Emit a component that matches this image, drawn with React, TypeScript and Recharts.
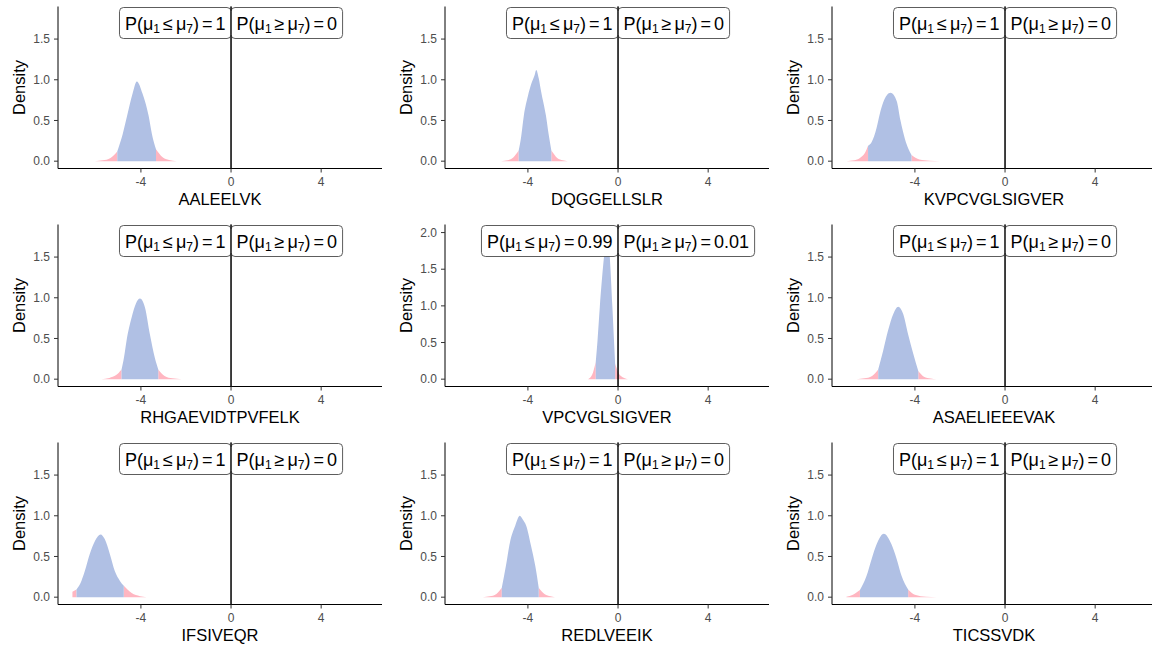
import React, { useLayoutEffect, useRef, useState } from "react";
import { ComposedChart, Area, XAxis, YAxis, ReferenceLine } from "recharts";

const FONT = '"Liberation Sans", Arial, Helvetica, sans-serif';
const BLUE = "#B0C0E4";
const PINK = "#FFB6C1";

const PEPTIDES = [
  "AALEELVK", "DQGGELLSLR", "KVPCVGLSIGVER",
  "RHGAEVIDTPVFELK", "VPCVGLSIGVER", "ASAELIEEEVAK",
  "IFSIVEQR", "REDLVEEIK", "TICSSVDK",
];
const P_LESS = ["1", "1", "1", "1", "0.99", "1", "1", "1", "1"];
const P_GREATER = ["0", "0", "0", "0", "0.01", "0", "0", "0", "0"];

// blue part of each density (credible interval)
const CI_LO = [-5.05, -4.41, -6.08, -4.86, -0.99, -5.63, -6.86, -5.16, -6.44];
const CI_HI = [-3.33, -2.96, -4.15, -3.23, -0.13, -3.85, -4.76, -3.52, -4.3];

// density curves
const X_AALEELVK = [-6.04, -5.7, -5.35, -5.05, -4.81, -4.61, -4.37, -4.18, -3.93, -3.66, -3.51, -3.33, -3.05, -2.75, -2.41];
const D_AALEELVK = [0, 0.01, 0.04, 0.12, 0.33, 0.56, 0.83, 0.98, 0.83, 0.56, 0.33, 0.145, 0.05, 0.015, 0];

const X_DQGGELLSLR = [-5.19, -4.9, -4.65, -4.41, -4.3, -4.18, -4.0, -3.85, -3.7, -3.63, -3.52, -3.41, -3.2, -3.08, -2.96, -2.7, -2.45, -2.23];
const D_DQGGELLSLR = [0, 0.01, 0.045, 0.13, 0.3, 0.56, 0.8, 0.95, 1.06, 1.12, 1.02, 0.85, 0.56, 0.33, 0.13, 0.04, 0.01, 0];

const X_KVPCVGLSIGVER = [-7.04, -6.7, -6.44, -6.22, -6.08, -5.93, -5.7, -5.56, -5.41, -5.08, -4.81, -4.64, -4.44, -4.15, -3.8, -3.35, -2.89];
const D_KVPCVGLSIGVER = [0, 0.01, 0.04, 0.1, 0.19, 0.23, 0.41, 0.58, 0.72, 0.84, 0.74, 0.5, 0.27, 0.075, 0.02, 0.005, 0];

const X_RHGAEVIDTPVFELK = [-5.75, -5.4, -5.1, -4.86, -4.75, -4.64, -4.41, -4.22, -4.04, -3.82, -3.6, -3.38, -3.23, -2.95, -2.6, -2.19];
const D_RHGAEVIDTPVFELK = [0, 0.015, 0.05, 0.12, 0.27, 0.47, 0.76, 0.93, 0.99, 0.88, 0.55, 0.26, 0.12, 0.04, 0.01, 0];

const X_VPCVGLSIGVER = [-1.33, -1.15, -0.99, -0.91, -0.81, -0.62, -0.5, -0.37, -0.25, -0.18, -0.13, 0.1, 0.44];
const D_VPCVGLSIGVER = [0, 0.06, 0.235, 0.53, 0.98, 1.68, 2.0, 1.68, 0.98, 0.53, 0.21, 0.05, 0];

const X_ASAELIEEEVAK = [-6.59, -6.25, -5.9, -5.63, -5.41, -5.19, -4.96, -4.74, -4.52, -4.3, -4.07, -3.85, -3.6, -3.3, -3.04];
const D_ASAELIEEEVAK = [0, 0.01, 0.04, 0.12, 0.35, 0.6, 0.8, 0.89, 0.8, 0.55, 0.31, 0.1, 0.03, 0.008, 0];

const X_IFSIVEQR = [-7.04, -6.86, -6.64, -6.49, -6.27, -6.04, -5.79, -5.6, -5.38, -5.16, -4.93, -4.76, -4.41, -4.04, -3.75];
const D_IFSIVEQR = [0.066, 0.095, 0.2, 0.32, 0.53, 0.69, 0.77, 0.71, 0.53, 0.32, 0.2, 0.14, 0.05, 0.012, 0];

const X_REDLVEEIK = [-6.0, -5.7, -5.4, -5.16, -4.98, -4.8, -4.56, -4.36, -4.22, -4.08, -3.86, -3.67, -3.52, -3.25, -3.0, -2.8];
const D_REDLVEEIK = [0, 0.01, 0.04, 0.115, 0.38, 0.67, 0.88, 1.0, 0.95, 0.88, 0.63, 0.38, 0.115, 0.035, 0.01, 0];

const X_TICSSVDK = [-7.04, -6.75, -6.44, -6.15, -5.92, -5.7, -5.38, -5.04, -4.81, -4.59, -4.3, -4.0, -3.5, -3.04];
const D_TICSSVDK = [0.005, 0.03, 0.087, 0.26, 0.47, 0.65, 0.78, 0.65, 0.47, 0.26, 0.095, 0.03, 0.005, 0];

const DENS_X = [X_AALEELVK, X_DQGGELLSLR, X_KVPCVGLSIGVER, X_RHGAEVIDTPVFELK, X_VPCVGLSIGVER, X_ASAELIEEEVAK, X_IFSIVEQR, X_REDLVEEIK, X_TICSSVDK];
const DENS_Y = [D_AALEELVK, D_DQGGELLSLR, D_KVPCVGLSIGVER, D_RHGAEVIDTPVFELK, D_VPCVGLSIGVER, D_ASAELIEEEVAK, D_IFSIVEQR, D_REDLVEEIK, D_TICSSVDK];

const X_TICKS = [-4, 0, 4];
const Y_TICKS = [0, 0.5, 1, 1.5];
const Y_TICKS_TALL = [0, 0.5, 1, 1.5, 2];

const PANEL_W = 387;
const PANEL_H = 218;

function mathText(op: string, value: string) {
  return (
    <>
      P(μ
      <tspan dy={2.5} fontSize={12}>1</tspan>
      <tspan dy={-2.5} dx={3}>{op}</tspan>
      <tspan dx={3}>μ</tspan>
      <tspan dy={2.5} fontSize={12}>7</tspan>
      <tspan dy={-2.5}>)</tspan>
      <tspan dx={3}>=</tspan>
      <tspan dx={3}>{value}</tspan>
    </>
  );
}

function ProbBoxes({ x0, top, bottom, less, greater }: any) {
  const leftRef = useRef<SVGTextElement>(null);
  const rightRef = useRef<SVGTextElement>(null);
  const [w, setW] = useState<[number, number]>([103, 104]);
  useLayoutEffect(() => {
    const a = leftRef.current ? leftRef.current.getBBox().width : w[0];
    const b = rightRef.current ? rightRef.current.getBBox().width : w[1];
    if (Math.abs(a - w[0]) > 0.5 || Math.abs(b - w[1]) > 0.5) setW([a, b]);
  });
  const pad = 5.5;
  const boxTop = top + 1;
  const boxH = 31;
  const base = boxTop + 22.5;
  return (
    <g>
      <rect x={x0 - w[0] - 2 * pad} y={boxTop} width={w[0] + 2 * pad} height={boxH} rx={4} fill="#fff" stroke="#333" strokeWidth={0.8} />
      <rect x={x0} y={boxTop} width={w[1] + 2 * pad} height={boxH} rx={4} fill="#fff" stroke="#333" strokeWidth={0.8} />
      <text ref={leftRef} x={x0 - pad} y={base} textAnchor="end" fontSize={18} fontFamily={FONT} fill="#000">
        {mathText("≤", less)}
      </text>
      <text ref={rightRef} x={x0 + pad} y={base} textAnchor="start" fontSize={18} fontFamily={FONT} fill="#000">
        {mathText("≥", greater)}
      </text>
      <line x1={x0} x2={x0} y1={top} y2={bottom} stroke="#000" strokeWidth={1} />
    </g>
  );
}

function Panel({ idx }: { idx: number }) {
  const xs = DENS_X[idx];
  const ys = DENS_Y[idx];
  const lo = CI_LO[idx];
  const hi = CI_HI[idx];
  const data = xs.map((x, i) => ({
    x,
    tail: x <= lo || x >= hi ? ys[i] : null,
    inner: x >= lo && x <= hi ? ys[i] : null,
  }));
  const tall = idx === 4;
  const yDomain = tall ? [-0.1, 2.11] : [-0.09, 1.9];
  const col = idx % 3;
  const row = Math.floor(idx / 3);

  return (
    <div style={{ position: "absolute", left: col * PANEL_W, top: row * PANEL_H }}>
      <ComposedChart
        width={PANEL_W}
        height={PANEL_H}
        data={data}
        margin={{ top: 6.5, right: 5, bottom: 9.5, left: 0 }}
      >
        <XAxis
          type="number"
          dataKey="x"
          domain={[-7.68, 6.7]}
          ticks={X_TICKS}
          allowDataOverflow
          height={40}
          tickSize={4}
          tickMargin={5}
          axisLine={{ stroke: "#000", strokeWidth: 1 }}
          tickLine={{ stroke: "#333" }}
          tick={{ fill: "#4D4D4D", fontSize: 12, fontFamily: FONT }}
          label={{
            content: (p: any) => {
              const vb = p.viewBox;
              return (
                <text x={vb.x + vb.width / 2} y={205} textAnchor="middle" fontSize={16.5} fontFamily={FONT} fill="#000">
                  {PEPTIDES[idx]}
                </text>
              );
            },
          }}
        />
        <YAxis
          type="number"
          domain={yDomain}
          ticks={tall ? Y_TICKS_TALL : Y_TICKS}
          allowDataOverflow
          width={58}
          tickSize={4}
          tickMargin={4}
          tickFormatter={(v: number) => v.toFixed(1)}
          axisLine={{ stroke: "#000", strokeWidth: 1 }}
          tickLine={{ stroke: "#333" }}
          tick={{ fill: "#4D4D4D", fontSize: 12, fontFamily: FONT }}
          label={{
            content: (p: any) => {
              const vb = p.viewBox;
              const cy = vb.y + vb.height / 2;
              return (
                <text transform={`translate(25, ${cy}) rotate(-90)`} textAnchor="middle" fontSize={16.5} fontFamily={FONT} fill="#000">
                  Density
                </text>
              );
            },
          }}
        />
        <Area
          type="monotone"
          dataKey="tail"
          fill={PINK}
          fillOpacity={1}
          stroke="none"
          connectNulls={false}
          dot={false}
          activeDot={false}
          isAnimationActive={false}
        />
        <Area
          type="monotone"
          dataKey="inner"
          fill={BLUE}
          fillOpacity={1}
          stroke="none"
          connectNulls={false}
          dot={false}
          activeDot={false}
          isAnimationActive={false}
        />
        <ReferenceLine
          x={0}
          stroke="#000"
          strokeWidth={1}
          label={{
            content: (p: any) => {
              const vb = p.viewBox;
              return (
                <ProbBoxes
                  x0={vb.x}
                  top={vb.y}
                  bottom={vb.y + vb.height}
                  less={P_LESS[idx]}
                  greater={P_GREATER[idx]}
                />
              );
            },
          }}
        />
      </ComposedChart>
    </div>
  );
}

export default function App() {
  return (
    <div
      style={{
        position: "fixed",
        left: 0,
        top: 0,
        width: 1152,
        height: 648,
        overflow: "hidden",
        background: "#fff",
      }}
    >
      {PEPTIDES.map((_, i) => (
        <Panel key={i} idx={i} />
      ))}
    </div>
  );
}
